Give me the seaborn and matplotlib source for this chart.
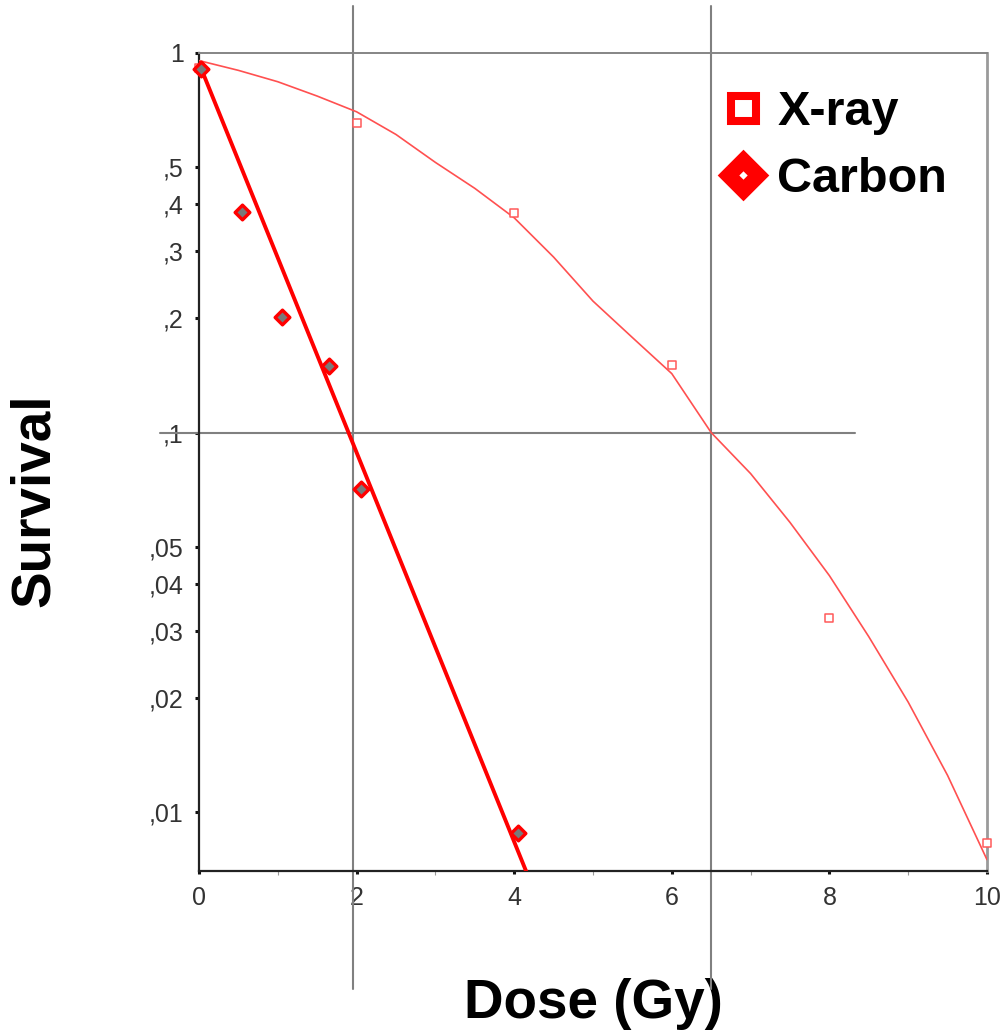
import numpy as np
import pandas as pd
import matplotlib
matplotlib.use("Agg")
import matplotlib.pyplot as plt
from matplotlib.lines import Line2D
from matplotlib.ticker import FixedLocator, NullLocator
import seaborn as sns

# measured points
xray_dose = [0, 2, 4, 6, 8, 10]
xray_surv = [0.915, 0.655, 0.38, 0.151, 0.0325, 0.0083]

carbon_dose = [0.02, 0.55, 1.05, 1.65, 2.05, 4.05]
carbon_surv = [0.908, 0.382, 0.201, 0.150, 0.071, 0.0088]

# fitted curves
xray_fit_dose = [0.0, 0.5, 1.0, 1.5, 2.0, 2.5, 3.0, 3.5, 4.0, 4.5, 5.0, 5.5, 6.0, 6.5,
                 7.0, 7.5, 8.0, 8.5, 9.0, 9.5, 10.0]
xray_fit_surv = [0.955, 0.90, 0.84, 0.77, 0.70, 0.61, 0.515, 0.44, 0.368, 0.29, 0.222,
                 0.178, 0.143, 0.10, 0.078, 0.058, 0.042, 0.029, 0.0195, 0.0125, 0.0075]

carbon_fit_dose = [0.0, 4.2]
carbon_fit_surv = [0.94, 0.0066]

# reference lines
ref_dose = [1.95, 6.5]
ref_surv = 0.1

yticks = [1, 0.5, 0.4, 0.3, 0.2, 0.1, 0.05, 0.04, 0.03, 0.02, 0.01]
ytick_labels = ["1", ",5", ",4", ",3", ",2", ",1", ",05", ",04", ",03", ",02", ",01"]
xticks = [0, 2, 4, 6, 8, 10]

sns.set_style("white")
plt.rcParams["font.family"] = ["Liberation Sans", "DejaVu Sans"]

fig = plt.figure(figsize=(10.02, 10.31), dpi=100)
ax = fig.add_axes([0.1986, 0.1552, 0.7864, 0.7934])

xray_fit = pd.DataFrame({"dose": xray_fit_dose, "surv": xray_fit_surv})
carbon_fit = pd.DataFrame({"dose": carbon_fit_dose, "surv": carbon_fit_surv})
xray = pd.DataFrame({"dose": xray_dose, "surv": xray_surv})
carbon = pd.DataFrame({"dose": carbon_dose, "surv": carbon_surv})

sns.lineplot(data=xray_fit, x="dose", y="surv", ax=ax, color="#ff5050",
             linewidth=1.2, estimator=None, sort=False, zorder=3)
sns.lineplot(data=carbon_fit, x="dose", y="surv", ax=ax, color="#ff0000",
             linewidth=2.8, estimator=None, sort=False, zorder=4)
sns.scatterplot(data=xray, x="dose", y="surv", ax=ax, marker="s", s=34,
                color="white", edgecolor="#ff5a5a", linewidth=1.1, zorder=5, clip_on=False)
sns.scatterplot(data=carbon, x="dose", y="surv", ax=ax, marker="D", s=56,
                color="#7a7a7a", edgecolor="#ff0000", linewidth=2.4, zorder=6, clip_on=False)

ax.set_yscale("log")
ax.set_xlim(0, 10)
ax.set_ylim(0.007, 1.0)

# grey reference lines that run past the frame
for d in ref_dose:
    ax.axvline(d, ymin=-0.144, ymax=1.0575, color="#808080", linewidth=1.5,
               clip_on=False, zorder=2)
ax.axhline(ref_surv, xmin=-0.049, xmax=0.833, color="#808080", linewidth=1.5,
           clip_on=False, zorder=2)

ax.yaxis.set_major_locator(FixedLocator(yticks))
ax.yaxis.set_minor_locator(NullLocator())
ax.set_yticklabels(ytick_labels)
ax.set_xticks(xticks)
ax.set_xticklabels([str(t) for t in xticks])
ax.xaxis.set_minor_locator(FixedLocator([1, 3, 5, 7, 9]))

ax.tick_params(axis="y", which="major", direction="out", length=3, width=2.2,
               color="#111111", labelsize=18, labelcolor="#333333", pad=8, left=True)
ax.tick_params(axis="x", which="major", direction="out", length=2.5, width=2.2,
               color="#111111", labelsize=18, labelcolor="#333333", pad=8, bottom=True)
ax.tick_params(axis="x", which="minor", direction="out", length=3, width=0.8,
               color="#999999", bottom=True)

for side in ["left", "bottom"]:
    ax.spines[side].set_color("#222222")
    ax.spines[side].set_linewidth(1.6)
ax.spines["top"].set_color("#858585")
ax.spines["top"].set_linewidth(1.4)
ax.spines["right"].set_color("#9a9a9a")
ax.spines["right"].set_linewidth(2.0)

ax.set_xlabel("Dose (Gy)", fontsize=39.5, fontweight="bold", color="black")
ax.set_ylabel("Survival", fontsize=39.5, fontweight="bold", color="black")
ax.xaxis.label.set_va("center")
ax.yaxis.label.set_va("center")
ax.xaxis.set_label_coords(0.5, -0.162)
ax.yaxis.set_label_coords(-0.208, 0.4535)

handles = [
    Line2D([], [], linestyle="", marker="s", markersize=18, markeredgewidth=5.8,
           markeredgecolor="#ff0000", markerfacecolor="white"),
    Line2D([], [], linestyle="", marker="D", markersize=15.5, markeredgewidth=11,
           markeredgecolor="#ff0000", markerfacecolor="white"),
]
leg = ax.legend(handles, ["X-ray", "Carbon"], loc="upper left",
                bbox_to_anchor=(0.66, 0.955), frameon=False,
                prop={"size": 35, "weight": "bold"}, handlelength=1.0,
                handletextpad=0.2, labelspacing=0.455, borderpad=0, borderaxespad=0)
for t in leg.get_texts():
    t.set_color("black")

fig.savefig("out.png", dpi=100)
